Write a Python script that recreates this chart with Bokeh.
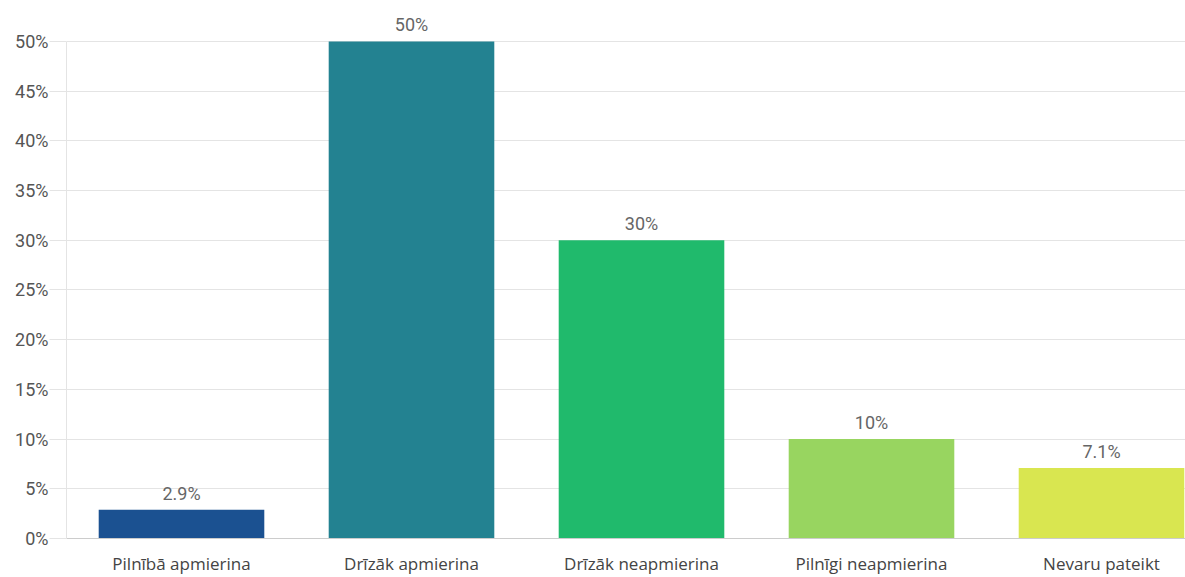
from bokeh.plotting import figure
from bokeh.models import ColumnDataSource, FixedTicker, Range1d
from bokeh.embed import file_html
from bokeh.resources import INLINE
from bokeh.core.properties import value

categories = ["Pilnībā apmierina", "Drīzāk apmierina", "Drīzāk neapmierina", "Pilnīgi neapmierina", "Nevaru pateikt"]
values = [2.9, 50, 30, 10, 7.1]
value_labels = ["2.9%", "50%", "30%", "10%", "7.1%"]
colors = ["#1b5191", "#238291", "#20ba6c", "#98d560", "#d9e650"]
y_ticks = [0, 5, 10, 15, 20, 25, 30, 35, 40, 45, 50]

FONT = "Roboto"
XFONT = "Open Sans"
xs = list(range(len(categories)))
src = ColumnDataSource(dict(x=xs, top=values, label=value_labels, color=colors))

W, H = 1185, 577
left, top_b, bottom_b = 66, 10, 38
px_per_cat = 230.0
px_per_pct = 9.96
x_end = -0.5 + (W - left) / px_per_cat
y_end = (H - top_b - bottom_b) / px_per_pct

p = figure(width=W, height=H, output_backend="svg", toolbar_location=None,
           x_range=Range1d(-0.5, x_end), y_range=Range1d(0, y_end),
           min_border_left=left, min_border_right=0, min_border_top=top_b,
           min_border_bottom=bottom_b)
p.outline_line_color = None
p.background_fill_color = "white"
p.border_fill_color = "white"

p.vbar(x="x", top="top", width=0.72, fill_color="color", line_color=None, source=src)
p.text(x="x", y="top", text="label", source=src, text_align="center",
       text_baseline="bottom", y_offset=-6, text_color="#666666",
       text_font=value(FONT), text_font_size="18px")

p.xgrid.grid_line_color = None
p.ygrid.grid_line_color = "#e4e4e4"
p.ygrid.ticker = FixedTicker(ticks=y_ticks)

p.yaxis.ticker = FixedTicker(ticks=y_ticks)
p.yaxis.major_label_overrides = {t: f"{t}%" for t in y_ticks}
p.yaxis.bounds = (0, max(y_ticks))
p.yaxis.axis_line_color = "#e4e4e4"
p.yaxis.major_tick_line_color = "#e4e4e4"
p.yaxis.major_tick_out = 17
p.yaxis.major_tick_in = 0
p.yaxis.minor_tick_line_color = None
p.yaxis.major_label_standoff = 1
p.yaxis.major_label_text_font = FONT
p.yaxis.major_label_text_font_size = "18px"
p.yaxis.major_label_text_color = "#555555"

p.xaxis.ticker = FixedTicker(ticks=xs)
p.xaxis.major_label_overrides = {i: c for i, c in enumerate(categories)}
p.xaxis.axis_line_color = "#cccccc"
p.xaxis.major_tick_line_color = None
p.xaxis.minor_tick_line_color = None
p.xaxis.major_label_standoff = 7
p.xaxis.major_label_text_font = XFONT
p.xaxis.major_label_text_font_size = "17px"
p.xaxis.major_label_text_color = "#444444"

open("out.html", "w").write(file_html(p, INLINE))
